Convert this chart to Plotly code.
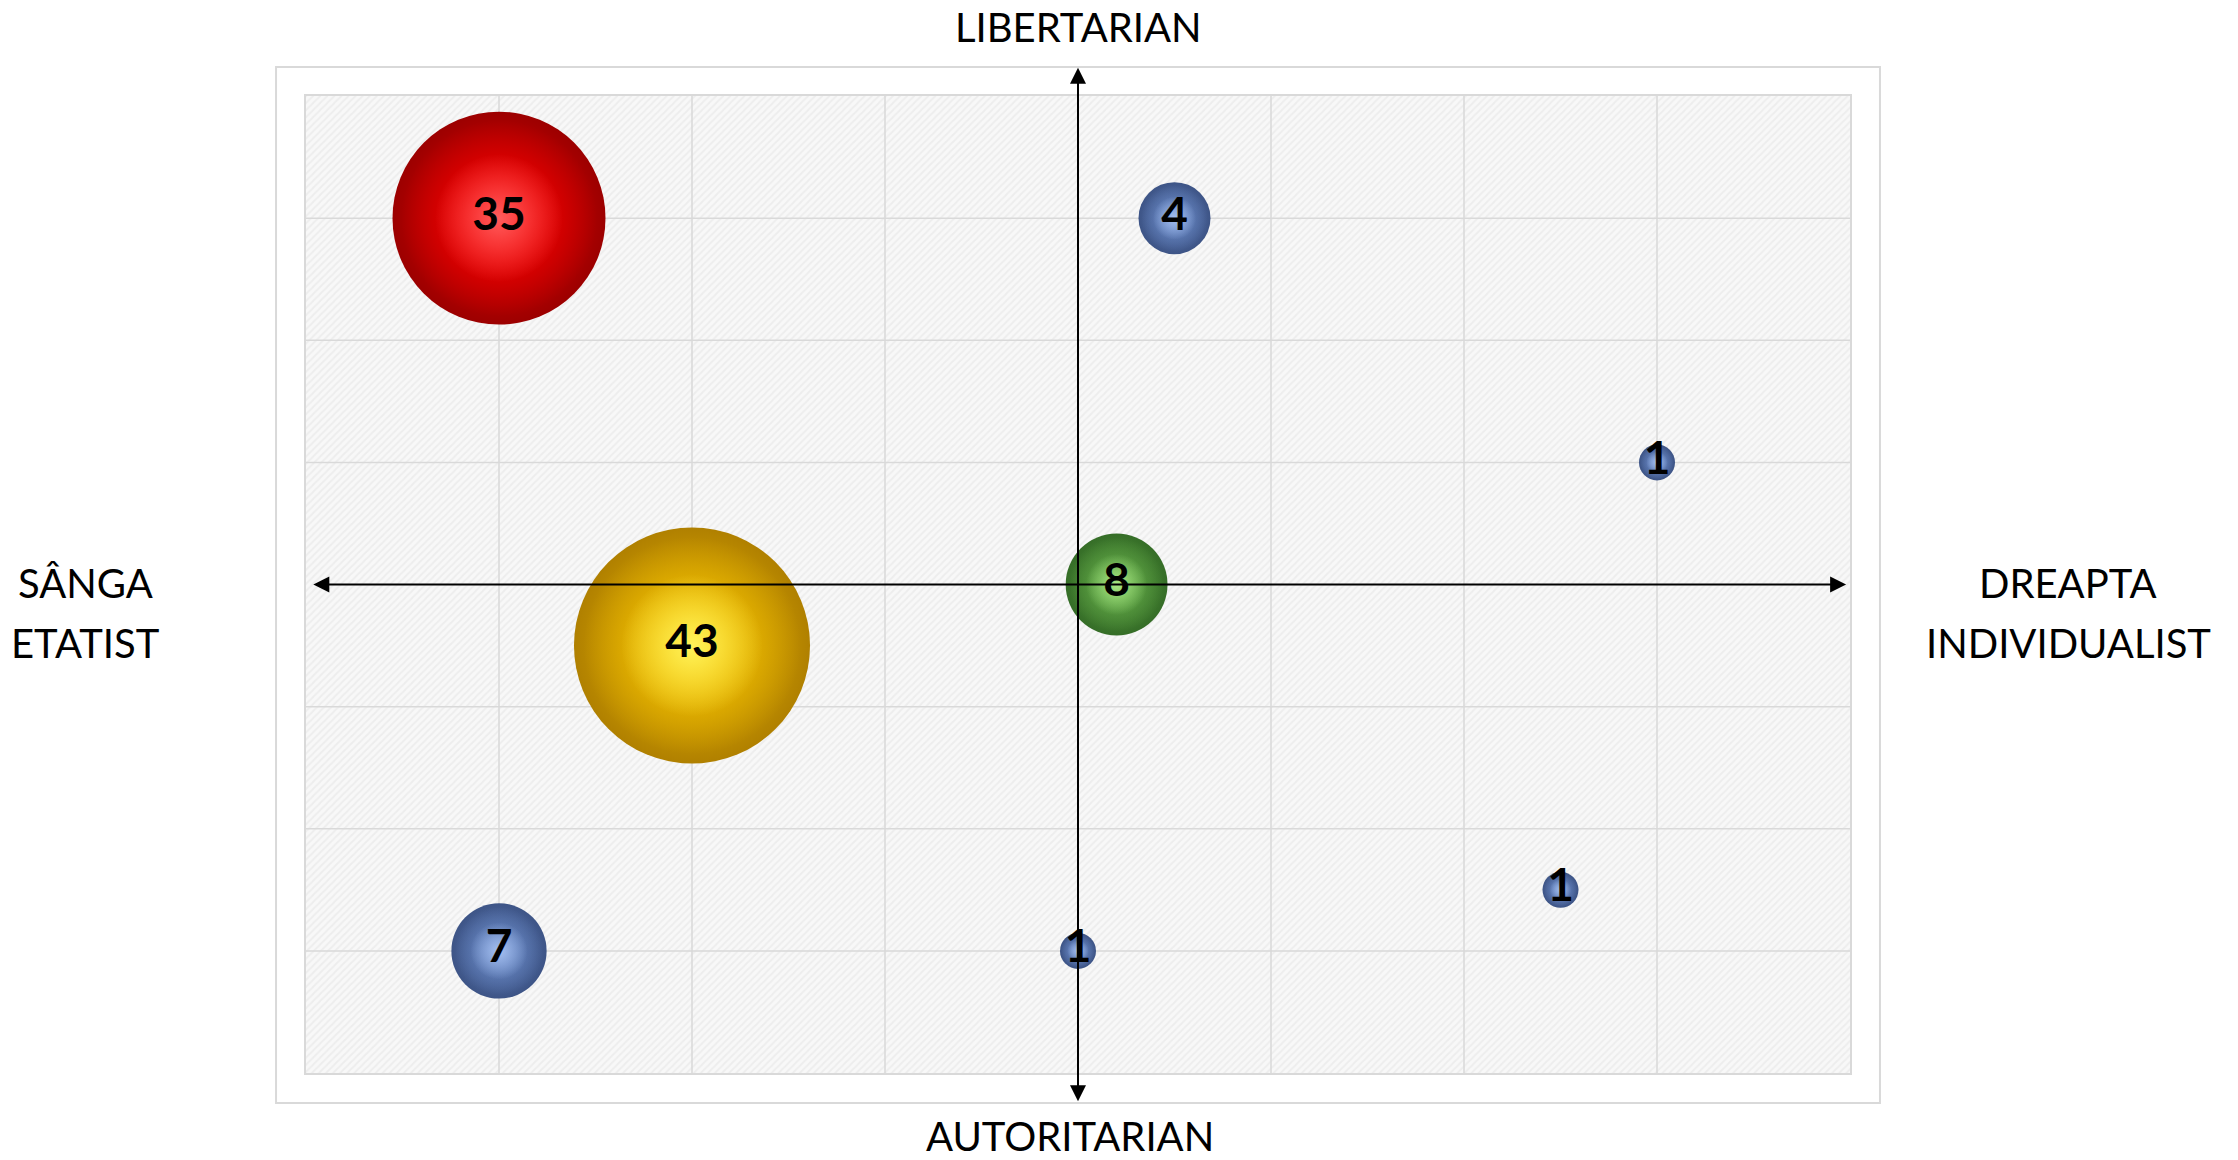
import plotly.graph_objects as go
import numpy as np

# ---- data ----
x_vals = [-3, 0.5, 3, 0.2, -2, 2.5, -3, 0]
y_vals = [3, 3, 1, 0, -0.5, -2.5, -3, -3]
counts = [35, 4, 1, 8, 43, 1, 7, 1]
highlight_colors = ["#ff5c5c", "#a4bff0", "#a4bff0", "#a8e884", "#fff35a", "#a4bff0", "#a4bff0", "#a4bff0"]
body_colors = ["#f40000", "#6584c0", "#6584c0", "#5fa545", "#f4c100", "#6584c0", "#6584c0", "#6584c0"]
edge_colors = ["#9c0000", "#3d5486", "#3d5486", "#356d27", "#b08000", "#3d5486", "#3d5486", "#3d5486"]
grid_ticks = [-3, -2, -1, 1, 2, 3]
axis_range = [-4, 4]
label_top = "LIBERTARIAN"
label_bottom = "AUTORITARIAN"
label_left = ["SÂNGA", "ETATIST"]
label_right = ["DREAPTA", "INDIVIDUALIST"]

FONT = "Lato, Open Sans, sans-serif"
NUM_FONT = "Lato, sans-serif"
K = 36  # px diameter per sqrt(count)


def transparent(hexcol):
    h = hexcol.lstrip("#")
    r, g, b = int(h[0:2], 16), int(h[2:4], 16), int(h[4:6], 16)
    return f"rgba({r},{g},{b},0)"


fig = go.Figure()

# patterned plot background
lo, hi = axis_range
fig.add_trace(go.Scatter(
    x=[lo, hi, hi, lo, lo], y=[lo, lo, hi, hi, lo], mode="lines",
    line=dict(width=0), fill="toself",
    fillcolor="#f4f4f4",
    fillpattern=dict(shape="/", fgcolor="#e2e2e2", bgcolor="#f8f8f8", size=5, solidity=0.35),
    hoverinfo="skip", showlegend=False))

# gridlines
gx, gy = [], []
for t in grid_ticks:
    gx += [t, t, None]
    gy += [lo, hi, None]
    gx += [lo, hi, None]
    gy += [t, t, None]
fig.add_trace(go.Scatter(x=gx, y=gy, mode="lines", line=dict(color="#d9d9d9", width=1.5),
                         hoverinfo="skip", showlegend=False))

# bubbles: stacked radial-gradient layers for a sphere look
for xv, yv, c, hc, bc, ec in zip(x_vals, y_vals, counts, highlight_colors, body_colors, edge_colors):
    d = K * np.sqrt(c)
    fig.add_trace(go.Scatter(
        x=[xv], y=[yv], mode="markers",
        marker=dict(size=[d], sizemode="diameter", color=ec, opacity=1,
                    gradient=dict(type="radial", color=bc), line=dict(width=0)),
        showlegend=False, hoverinfo="skip"))
    fig.add_trace(go.Scatter(
        x=[xv], y=[yv], mode="markers",
        marker=dict(size=[d * 0.92], sizemode="diameter", color=transparent(bc), opacity=1,
                    gradient=dict(type="radial", color=bc), line=dict(width=0)),
        showlegend=False, hoverinfo="skip"))
    fig.add_trace(go.Scatter(
        x=[xv], y=[yv], mode="markers+text", text=[str(c)],
        textposition="middle center",
        textfont=dict(family=NUM_FONT, size=46, color="black", weight="bold"),
        marker=dict(size=[d * 0.6], sizemode="diameter", color=transparent(hc), opacity=1,
                    gradient=dict(type="radial", color=hc), line=dict(width=0)),
        showlegend=False, hoverinfo="skip"))

ann = []
ann.append(dict(x=3.98, y=0, xref="x", yref="y", ax=-3.97, ay=0, axref="x", ayref="y",
                text="", showarrow=True, arrowhead=2, arrowside="end+start",
                arrowsize=1.6, arrowwidth=2, arrowcolor="black", standoff=0, startstandoff=0))
ann.append(dict(x=0, y=1.029, xref="x", yref="paper", ax=0, ay=1035, axref="pixel", ayref="pixel",
                text="", showarrow=True, arrowhead=2, arrowside="end+start",
                arrowsize=1.6, arrowwidth=2, arrowcolor="black", standoff=0, startstandoff=0))

tf = dict(family=FONT, size=40, color="black")
ann.append(dict(x=0, y=1.0706, xref="x", yref="paper", text=label_top, showarrow=False,
                font=tf, xanchor="center", yanchor="middle"))
ann.append(dict(x=-0.04, y=-0.064, xref="x", yref="paper", text=label_bottom, showarrow=False,
                font=tf, xanchor="center", yanchor="middle"))
for i, yy in enumerate([0.5015, 0.4401]):
    ann.append(dict(x=-0.1431, y=yy, xref="paper", yref="paper", text=label_left[i], showarrow=False,
                    font=tf, xanchor="center", yanchor="middle"))
    ann.append(dict(x=1.1412, y=yy, xref="paper", yref="paper", text=label_right[i], showarrow=False,
                    font=tf, xanchor="center", yanchor="middle"))

fig.update_layout(
    width=2238, height=1160,
    margin=dict(l=306, r=388, t=96, b=87),
    paper_bgcolor="white", plot_bgcolor="white",
    annotations=ann,
    shapes=[dict(type="rect", xref="paper", yref="paper", x0=-0.0194, x1=1.0194, y0=-0.0307, y1=1.0297,
                 line=dict(color="#d9d9d9", width=2), layer="below")],
    showlegend=False,
)
axis_common = dict(range=axis_range, showgrid=False, zeroline=False, showticklabels=False, ticks="",
                   showline=True, mirror=True, linecolor="#d9d9d9", linewidth=2, fixedrange=True)
fig.update_xaxes(**axis_common)
fig.update_yaxes(**axis_common)

fig.write_html("out.html", config={"displayModeBar": False},
               post_script="document.body.style.margin='0';document.body.style.padding='0';document.body.style.overflow='hidden';")
